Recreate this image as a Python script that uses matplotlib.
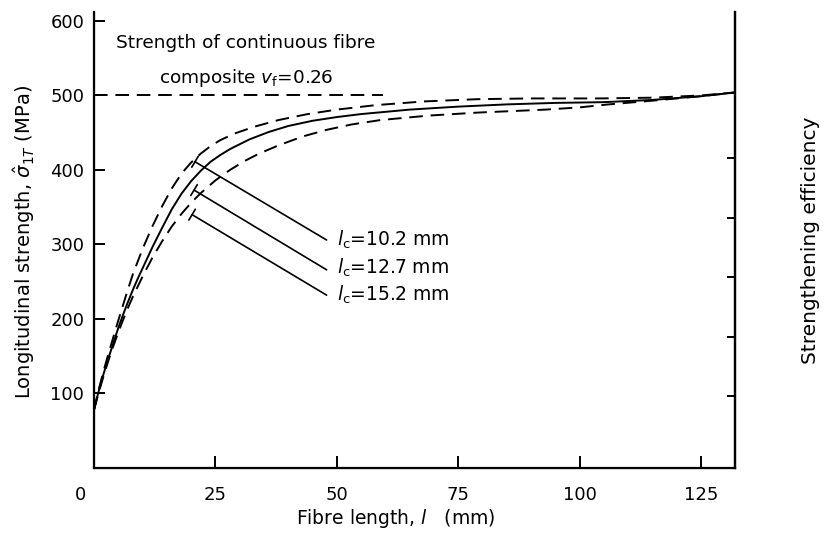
import numpy as np
import matplotlib
matplotlib.use('Agg')
from matplotlib import pyplot as plt
from matplotlib.transforms import ScaledTranslation

# fibre length (mm) and longitudinal strength (MPa)
x_lc102 = [0, 1, 2, 3, 4, 5, 6, 7, 8, 10, 12, 14, 16, 18, 20, 22, 24, 26, 29,
           33, 38, 44, 50, 58, 68, 79, 90, 104, 115, 125, 132]
y_lc102 = [78, 106, 131, 154, 176, 198, 219, 240, 260, 294, 324, 351, 375, 395,
           410, 422, 432, 440, 449, 458, 467, 475, 481, 487, 492, 495, 496, 496,
           497, 500, 504]

x_lc127 = [0, 1, 2, 3, 4, 5, 6, 7, 8, 9, 10, 12, 14, 16, 18, 20, 22, 24, 26,
           28, 32, 36, 40, 45, 50, 55, 65, 75, 85, 95, 105, 115, 125, 132]
y_lc127 = [78, 104, 127, 148, 168, 188, 206, 223, 239, 254, 268, 296, 322, 347,
           368, 385, 399, 411, 420, 428, 441, 451, 459, 466, 471, 475, 481, 485,
           488, 490, 491, 494, 499, 504]

x_lc152 = [0, 1, 2, 3, 4, 5, 6, 7, 8, 10, 12, 14, 16, 18, 20, 22, 25, 28, 31,
           34, 38, 43, 48, 53, 59, 69, 79, 86, 93, 100, 106, 115, 125, 132]
y_lc152 = [78, 102, 124, 145, 164, 182, 199, 215, 230, 257, 282, 304, 324, 341,
           356, 369, 386, 400, 412, 422, 433, 445, 454, 461, 467, 473, 477, 479,
           481, 484, 488, 493, 499, 504]

# strength of the continuous fibre composite
x_cont = [0, 59.5]
y_cont = [500, 500]

labels = ['$l_{\\rm c}$=10.2 mm', '$l_{\\rm c}$=12.7 mm', '$l_{\\rm c}$=15.2 mm']
leader_start = [(20.8, 411), (20.6, 373), (20.2, 340)]
leader_end = [(47.9, 306), (47.9, 266), (47.9, 232)]
label_pos = [(50, 306), (50, 268), (50, 232)]

x_ticks = [0, 25, 50, 75, 100, 125]
y_ticks = [100, 200, 300, 400, 500, 600]
eff_ticks = [0.2, 0.4, 0.6, 0.8, 1.0]

plt.rcParams['font.family'] = 'DejaVu Sans'
plt.rcParams['font.size'] = 13

fig = plt.figure(figsize=(8.27, 5.36), dpi=100)
ax = fig.add_axes([94 / 827, 1 - 468 / 536, 641 / 827, 456 / 536])

dash = (7, 4)
ax.plot(x_cont, y_cont, color='black', lw=1.4, dashes=dash)
ax.plot(x_lc102, y_lc102, color='black', lw=1.4, dashes=dash)
ax.plot(x_lc127, y_lc127, color='black', lw=1.4)
ax.plot(x_lc152, y_lc152, color='black', lw=1.4, dashes=dash)

for txt, st, en, pos in zip(labels, leader_start, leader_end, label_pos):
    ax.annotate('', xy=st, xytext=en,
                arrowprops=dict(arrowstyle='-[, widthB=0.35, lengthB=0',
                                color='black', lw=1.2, shrinkA=0, shrinkB=0))
    ax.text(pos[0], pos[1], txt, ha='left', va='center', fontsize=13.5)

ax.text(31.3, 571, 'Strength of continuous fibre', ha='center', va='center',
        fontsize=13.3)
ax.text(31.3, 524, 'composite $v_{\\rm f}$=0.26', ha='center', va='center',
        fontsize=13.3)

ax.set_xlim(0, 132)
ax.set_ylim(0, 612)
ax.set_xticks(x_ticks)
ax.set_yticks(y_ticks)
ax.spines['top'].set_visible(False)
for s in ['left', 'right', 'bottom']:
    ax.spines[s].set_linewidth(1.6)
ax.tick_params(axis='x', direction='in', length=9, width=1.4, pad=13, labelsize=13)
ax.tick_params(axis='y', direction='in', length=8, width=1.4, pad=7, labelsize=13)

# the "0" label sits a little left of the axis corner
lab0 = ax.get_xticklabels()[0]
lab0.set_transform(lab0.get_transform() + ScaledTranslation(-0.14, 0, fig.dpi_scale_trans))

ax2 = ax.twinx()
ax2.set_ylim(-0.04, 1.49)
ax2.set_yticks(eff_ticks)
ax2.set_yticklabels([])
ax2.tick_params(axis='y', direction='in', length=6, width=1.4)
ax2.spines['top'].set_visible(False)
ax2.spines['right'].set_linewidth(1.6)

fig.text(24 / 827, 1 - 242 / 536, 'Longitudinal strength, $\\hat{\\sigma}_{1T}$ (MPa)',
         rotation=90, ha='center', va='center', fontsize=14)
fig.text(396 / 827, 1 - 519 / 536, 'Fibre length, $l$   (mm)',
         ha='center', va='center', fontsize=13.5)
fig.text(810 / 827, 1 - 240 / 536, 'Strengthening efficiency',
         rotation=90, ha='center', va='center', fontsize=14.5)

fig.savefig('out.png', dpi=100)
